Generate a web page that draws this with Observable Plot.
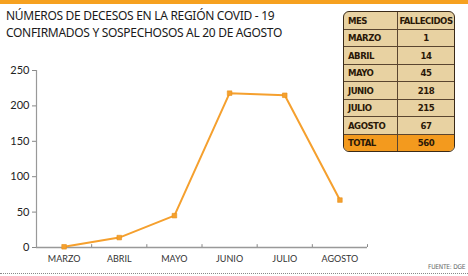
<!DOCTYPE html>
<html><head><meta charset="utf-8">
<script src="https://cdn.jsdelivr.net/npm/d3@7"></script>
<script src="https://cdn.jsdelivr.net/npm/@observablehq/plot@0.6"></script>
<style>
html,body{margin:0;padding:0;background:#fff;}
#wrap{position:relative;width:468px;height:276px;overflow:hidden;background:#fff;}
#bar{position:absolute;left:0;top:0;width:468px;height:4px;background:#f6a11f;}
#title{position:absolute;left:6px;top:7px;font-family:"Noto Sans",sans-serif;font-size:12px;line-height:17px;color:#1a1a1a;letter-spacing:-0.3px;white-space:nowrap;}
#chart{position:absolute;left:0;top:0;}
#tbl{position:absolute;left:343px;top:11px;width:112px;border-collapse:separate;border-spacing:0;font-family:"DejaVu Sans Condensed","Liberation Sans Narrow","Liberation Sans",sans-serif;font-stretch:condensed;font-weight:bold;font-size:9.5px;letter-spacing:-0.5px;color:#2a1808;background:#e8d2a2;border:1.2px solid #3a2a18;border-radius:6px;overflow:hidden;}
#tbl td{height:16.5px;padding:0 0 0 4px;border-bottom:1px solid #5a4530;white-space:nowrap;}
#tbl td.v{text-align:center;border-left:1px solid #5a4530;padding:0;width:56px;}
#tbl tr:last-child td{border-bottom:none;background:#f39a1e;}
#dots{position:absolute;left:0;top:273px;width:468px;border-top:1px dotted #888;}
#src{position:absolute;left:428px;top:263px;font-family:"DejaVu Sans Condensed",sans-serif;font-size:6.5px;color:#666;white-space:nowrap;letter-spacing:-0.2px;}
</style></head>
<body>
<div id="wrap">
<div id="bar"></div>
<div id="chart"></div>
<div id="title">NÚMEROS DE DECESOS EN LA REGIÓN COVID - 19<br>CONFIRMADOS Y SOSPECHOSOS AL 20 DE AGOSTO</div>
<table id="tbl"></table>
<div id="dots"></div>
<div id="src">FUENTE: DGE</div>
</div>
<script>
const months = ["MARZO","ABRIL","MAYO","JUNIO","JULIO","AGOSTO"];
const deaths = [1,14,45,218,215,67];
const yTicks = [0,50,100,150,200,250];
const tableHeader = ["MES","FALLECIDOS"];
const totalLabel = "TOTAL";

const data = months.map((m,i)=>({month:m, idx:i+0.5, value:deaths[i]}));
const boundaries = months.map((m,i)=>i+1);
const orange = "#f5a02e";

const chart = Plot.plot({
  width:468, height:276,
  marginLeft:36, marginRight:101, marginTop:70, marginBottom:29,
  style:{background:"transparent", fontFamily:"Lato, sans-serif"},
  x:{domain:[0,months.length], axis:null},
  y:{domain:[0,250], axis:null},
  marks:[
    Plot.ruleX([0], {y1:0, y2:250, stroke:"#999", strokeWidth:1.2}),
    Plot.ruleY([0], {x1:0, x2:months.length, stroke:"#999", strokeWidth:1.5}),
    Plot.ruleX(boundaries, {y1:0, y2:4, stroke:"#888"}),
    Plot.axisY(yTicks, {tickSize:4, tickPadding:3, stroke:"#888", fontSize:11, color:"#222", tickFormat:d=>d, anchor:"left", label:null}),
    Plot.axisX(data.map(d=>d.idx), {tickSize:0, tickPadding:8, fontSize:9, color:"#333", tickFormat:(d,i)=>months[i], anchor:"bottom", label:null}),
    Plot.line(data, {x:"idx", y:"value", stroke:orange, strokeWidth:2}),
    Plot.dot(data, {x:"idx", y:"value", symbol:"square", r:2.6, fill:orange, stroke:"#e8901a", strokeWidth:0.6})
  ]
});
document.getElementById("chart").appendChild(chart);

const tbl = document.getElementById("tbl");
const rows = [tableHeader, ...months.map((m,i)=>[m, deaths[i]]), [totalLabel, d3.sum(deaths)]];
rows.forEach(r=>{
  const tr = document.createElement("tr");
  tr.innerHTML = `<td>${r[0]}</td><td class="v">${r[1]}</td>`;
  tbl.appendChild(tr);
});
</script>
</body></html>
